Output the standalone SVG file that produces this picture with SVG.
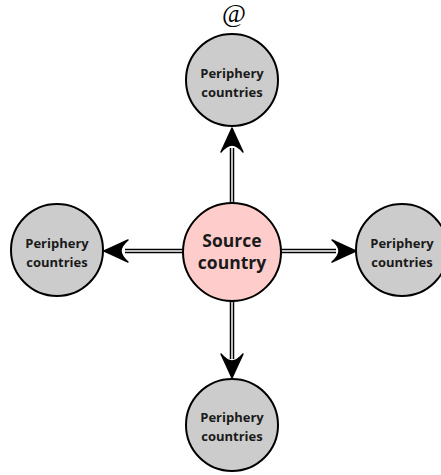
<svg xmlns="http://www.w3.org/2000/svg" width="441" height="475" viewBox="0 0 441 475">
<style>
.per{fill:#cccccc;stroke:#000;stroke-width:2}
.src{fill:#ffcccc;stroke:#000;stroke-width:2}
.pt{font-family:"Open Sans","Liberation Sans",sans-serif;font-weight:bold;font-size:13px;text-anchor:middle;fill:#1a1a1a}
.st{font-family:"Open Sans","Liberation Sans",sans-serif;font-weight:bold;font-size:17.5px;text-anchor:middle;fill:#1a1a1a}
.outer{stroke:#000;stroke-width:4.5;fill:none}
.inner{stroke:#fff;stroke-width:1.5;fill:none}
.head{fill:#000;stroke:#000;stroke-width:1.5;stroke-linejoin:round}
</style>
<defs>
<path id="ah" d="M0,0 Q-9,-4 -24,-11 Q-17,-5 -17,0 Q-17,5 -24,11 Q-9,4 0,0 Z"/>
</defs>
<g id="connectors">
<line class="outer" x1="232" y1="204" x2="232" y2="148"/>
<line class="inner" x1="232" y1="204" x2="232" y2="146"/>
<use href="#ah" class="head" transform="translate(232,128) rotate(-90)"/>
<line class="outer" x1="232" y1="301" x2="232" y2="359"/>
<line class="inner" x1="232" y1="301" x2="232" y2="361"/>
<use href="#ah" class="head" transform="translate(232,378) rotate(90)"/>
<line class="outer" x1="183" y1="251" x2="125" y2="251"/>
<line class="inner" x1="183" y1="251" x2="123" y2="251"/>
<use href="#ah" class="head" transform="translate(104,251) rotate(180)"/>
<line class="outer" x1="281" y1="251" x2="336" y2="251"/>
<line class="inner" x1="281" y1="251" x2="338" y2="251"/>
<use href="#ah" class="head" transform="translate(356,251)"/>
</g>
<g id="source">
<circle class="src" cx="232" cy="252" r="49"/>
<text class="st" x="232" y="247">Source</text>
<text class="st" x="232" y="269">country</text>
</g>
<g id="top">
<circle class="per" cx="232" cy="80" r="46"/>
<text class="pt" x="232" y="78">Periphery</text>
<text class="pt" x="232" y="97">countries</text>
</g>
<g id="bottom">
<circle class="per" cx="232" cy="425" r="46"/>
<text class="pt" x="232" y="422">Periphery</text>
<text class="pt" x="232" y="441">countries</text>
</g>
<g id="left">
<circle class="per" cx="57" cy="250" r="46"/>
<text class="pt" x="57" y="248">Periphery</text>
<text class="pt" x="57" y="267">countries</text>
</g>
<g id="right">
<circle class="per" cx="402" cy="250" r="46"/>
<text class="pt" x="402" y="248">Periphery</text>
<text class="pt" x="402" y="267">countries</text>
</g>
<text x="234" y="22" font-family="'Liberation Serif',serif" font-size="26" text-anchor="middle">@</text>
</svg>
